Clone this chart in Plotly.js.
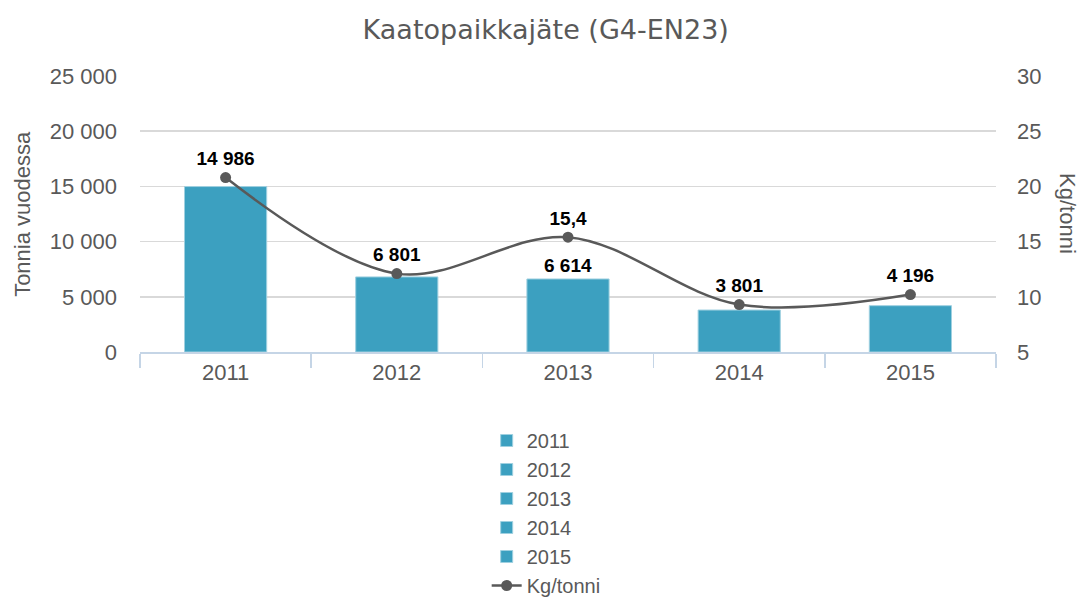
<!DOCTYPE html>
<html>
<head>
<meta charset="utf-8">
<script src="https://cdn.plot.ly/plotly-3.0.1.min.js"></script>
<style>html,body{margin:0;padding:0;background:#fff;}#chart{width:1080px;height:599px;}</style>
</head>
<body>
<div id="chart"></div>
<script>
const years = ['2011', '2012', '2013', '2014', '2015'];
const tonnes = [14986, 6801, 6614, 3801, 4196];
const kgPerTonne = [20.8, 12.1, 15.4, 9.3, 10.2];
const lineLabels = ['14 986', '6 801', '15,4', '3 801', '4 196'];
const barLabels = ['', '', '6 614', '', ''];
const lineLabelPos = ['top center', 'top center', 'top center', 'top center', 'top center'];

const barColor = '#3ca0c0';
const grey = '#595959';
const sans = 'Liberation Sans, Arial, sans-serif';

const traces = years.map((yr, i) => ({
  type: 'bar',
  name: yr,
  x: [yr],
  y: [tonnes[i]],
  text: [barLabels[i]],
  textposition: 'outside',
  cliponaxis: false,
  textfont: {family: sans, size: 19, color: '#000', weight: 'bold'},
  marker: {color: barColor, line: {color: '#9fd0e0', width: 1}},
  width: 0.48,
  legendgroup: 'g' + i,
  hoverinfo: 'x+y'
}));

traces.push({
  type: 'scatter',
  mode: 'lines+markers+text',
  name: 'Kg/tonni',
  x: years,
  y: kgPerTonne,
  yaxis: 'y2',
  text: lineLabels,
  textposition: lineLabelPos,
  cliponaxis: false,
  textfont: {family: sans, size: 19, color: '#000', weight: 'bold'},
  line: {color: grey, width: 2.5, shape: 'spline', smoothing: 1},
  marker: {color: grey, size: 11},
  legendgroup: 'g5'
});

const layout = {
  width: 1080,
  height: 599,
  paper_bgcolor: '#fff',
  plot_bgcolor: '#fff',
  separators: ', ',
  margin: {l: 140, r: 84, t: 76, b: 247, autoexpand: false},
  font: {family: sans, color: grey, size: 22},
  title: {
    text: 'Kaatopaikkajäte (G4-EN23)',
    x: 0.474, xref: 'paper', xanchor: 'center',
    y: 0.95, yref: 'container', yanchor: 'middle',
    font: {family: 'DejaVu Sans, sans-serif', size: 27, color: grey}
  },
  barmode: 'overlay',
  showlegend: true,
  legend: {
    orientation: 'v',
    x: 0.405, xanchor: 'left',
    y: -0.25, yanchor: 'top',
    font: {size: 20, color: grey},
    tracegroupgap: 0,
    traceorder: 'grouped'
  },
  xaxis: {
    type: 'category',
    showgrid: false,
    showline: true,
    linecolor: '#c5d5e6',
    linewidth: 1.5,
    ticks: 'outside',
    tickson: 'boundaries',
    ticklen: 14,
    tickcolor: '#c5d5e6',
    tickwidth: 1.5,
    tickfont: {size: 22, color: grey},
    zeroline: false
  },
  yaxis: {
    range: [0, 25000],
    dtick: 5000,
    tickformat: ',d',
    separatethousands: true,
    showgrid: true,
    gridcolor: '#d9d9d9',
    gridwidth: 1.5,
    zeroline: false,
    ticks: '',
    ticklabelstandoff: 22,
    tickfont: {size: 22, color: grey}
  },
  yaxis2: {
    overlaying: 'y',
    side: 'right',
    range: [5, 30],
    dtick: 5,
    showgrid: false,
    zeroline: false,
    ticks: '',
    ticklabelstandoff: 20,
    tickfont: {size: 22, color: grey}
  },
  annotations: [{
    text: 'Tonnia vuodessa',
    xref: 'paper', yref: 'paper',
    x: -0.138, y: 0.5,
    xanchor: 'center', yanchor: 'middle',
    textangle: -90,
    showarrow: false,
    font: {size: 22, color: grey}
  }, {
    text: 'Kg/tonni',
    xref: 'paper', yref: 'paper',
    x: 1.084, y: 0.5,
    xanchor: 'center', yanchor: 'middle',
    textangle: 90,
    showarrow: false,
    font: {size: 22, color: grey}
  }]
};

Plotly.newPlot('chart', traces, layout, {displayModeBar: false, staticPlot: true});
</script>
</body>
</html>
